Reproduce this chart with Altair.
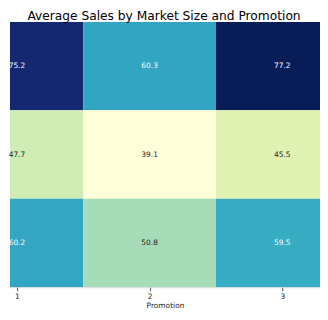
import altair as alt
import pandas as pd

promotions = [1, 2, 3]
market_sizes = ["Large", "Medium", "Small"]
sales = [
    [75.2, 60.3, 77.2],
    [47.7, 39.1, 45.5],
    [60.2, 50.8, 59.5],
]
ylgnbu = ["#ffffd9", "#edf8b1", "#c7e9b4", "#7fcdbb", "#41b6c4",
          "#1d91c0", "#225ea8", "#253494", "#081d58"]

rows = []
for i, m in enumerate(market_sizes):
    for j, p in enumerate(promotions):
        rows.append({"MarketSize": m, "Promotion": p, "Sales": sales[i][j]})
df = pd.DataFrame(rows)

vmin = min(min(r) for r in sales)
vmax = max(max(r) for r in sales)
n = len(ylgnbu) - 1
cdomain = [vmin + (vmax - vmin) * k / n for k in range(n + 1)]

base = alt.Chart(df).transform_calculate(
    x0="datum.Promotion - 0.5", x1="datum.Promotion + 0.5"
)

xscale = alt.Scale(domain=[0.9476, 3.2846], nice=False, zero=False)
yenc = alt.Y("MarketSize:N", sort=market_sizes, axis=None,
             scale=alt.Scale(paddingInner=0, paddingOuter=0))

rects = base.mark_rect(clip=True).encode(
    x=alt.X("x0:Q", scale=xscale,
            axis=alt.Axis(values=promotions, title="Promotion", format="d",
                          domain=False, grid=False, tickSize=3.5,
                          tickColor="#555555", labelFontSize=7.5,
                          labelColor="#222222", titleFontSize=7.5,
                          titleFontWeight="normal", titleColor="#222222",
                          labelPadding=1.5, titlePadding=2)),
    x2="x1:Q",
    y=yenc,
    color=alt.Color("Sales:Q", legend=None,
                    scale=alt.Scale(domain=cdomain, range=ylgnbu,
                                    interpolate="rgb", zero=False, nice=False)),
)

texts = base.mark_text(fontSize=7.5, font="DejaVu Sans").encode(
    x=alt.X("Promotion:Q", scale=xscale),
    y=yenc,
    text=alt.Text("Sales:Q", format=".1f"),
    color=alt.condition("datum.Sales > 55", alt.value("white"), alt.value("#262626")),
)

chart = (rects + texts).properties(
    width=312, height=267,
    padding=0,
    title=alt.TitleParams("Average Sales by Market Size and Promotion",
                          fontSize=12.3, fontWeight="normal", font="DejaVu Sans",
                          color="black", offset=0, dx=-1),
).configure_view(stroke=None).configure(font="DejaVu Sans")

chart.save("out.html", embed_options={"renderer": "svg", "actions": False})
